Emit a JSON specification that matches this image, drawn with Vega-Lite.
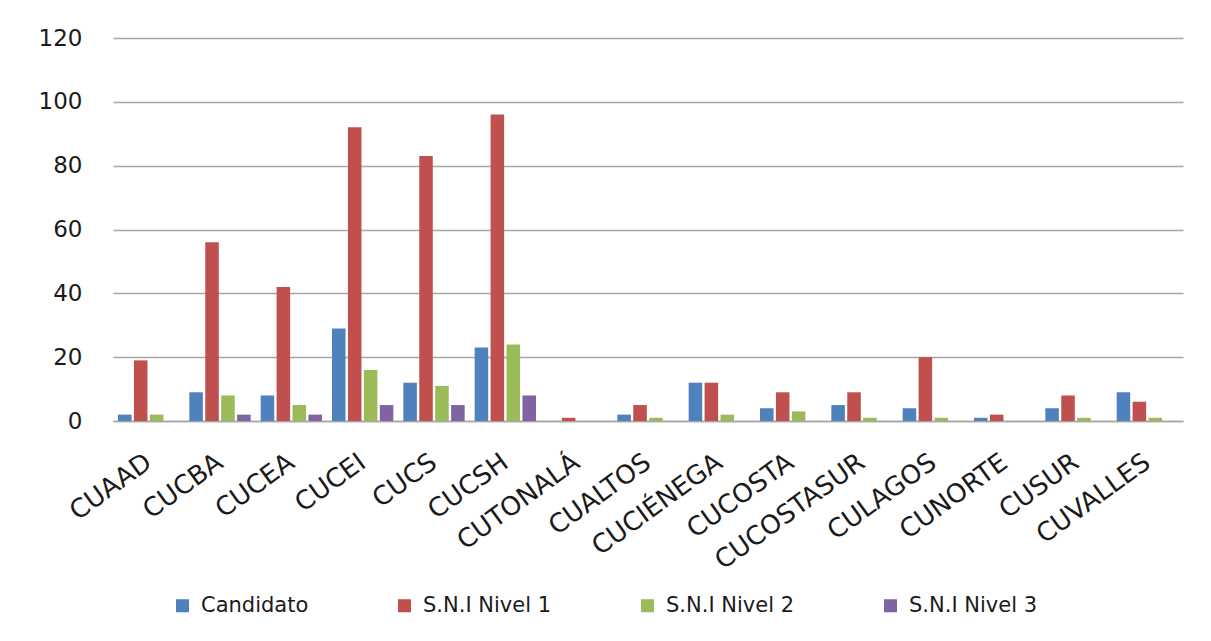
{
  "$schema": "https://vega.github.io/schema/vega-lite/v6.json",
  "width": 1070,
  "height": 383,
  "autosize": {"type": "none"},
  "padding": {"left": 113, "top": 38, "right": 28, "bottom": 220},
  "background": "white",
  "data": {
    "values": [
      {"centro": "CUAAD", "serie": "Candidato", "valor": 2},
      {"centro": "CUAAD", "serie": "S.N.I Nivel 1", "valor": 19},
      {"centro": "CUAAD", "serie": "S.N.I Nivel 2", "valor": 2},
      {"centro": "CUAAD", "serie": "S.N.I Nivel 3", "valor": 0},
      {"centro": "CUCBA", "serie": "Candidato", "valor": 9},
      {"centro": "CUCBA", "serie": "S.N.I Nivel 1", "valor": 56},
      {"centro": "CUCBA", "serie": "S.N.I Nivel 2", "valor": 8},
      {"centro": "CUCBA", "serie": "S.N.I Nivel 3", "valor": 2},
      {"centro": "CUCEA", "serie": "Candidato", "valor": 8},
      {"centro": "CUCEA", "serie": "S.N.I Nivel 1", "valor": 42},
      {"centro": "CUCEA", "serie": "S.N.I Nivel 2", "valor": 5},
      {"centro": "CUCEA", "serie": "S.N.I Nivel 3", "valor": 2},
      {"centro": "CUCEI", "serie": "Candidato", "valor": 29},
      {"centro": "CUCEI", "serie": "S.N.I Nivel 1", "valor": 92},
      {"centro": "CUCEI", "serie": "S.N.I Nivel 2", "valor": 16},
      {"centro": "CUCEI", "serie": "S.N.I Nivel 3", "valor": 5},
      {"centro": "CUCS", "serie": "Candidato", "valor": 12},
      {"centro": "CUCS", "serie": "S.N.I Nivel 1", "valor": 83},
      {"centro": "CUCS", "serie": "S.N.I Nivel 2", "valor": 11},
      {"centro": "CUCS", "serie": "S.N.I Nivel 3", "valor": 5},
      {"centro": "CUCSH", "serie": "Candidato", "valor": 23},
      {"centro": "CUCSH", "serie": "S.N.I Nivel 1", "valor": 96},
      {"centro": "CUCSH", "serie": "S.N.I Nivel 2", "valor": 24},
      {"centro": "CUCSH", "serie": "S.N.I Nivel 3", "valor": 8},
      {"centro": "CUTONALÁ", "serie": "Candidato", "valor": 0},
      {"centro": "CUTONALÁ", "serie": "S.N.I Nivel 1", "valor": 1},
      {"centro": "CUTONALÁ", "serie": "S.N.I Nivel 2", "valor": 0},
      {"centro": "CUTONALÁ", "serie": "S.N.I Nivel 3", "valor": 0},
      {"centro": "CUALTOS", "serie": "Candidato", "valor": 2},
      {"centro": "CUALTOS", "serie": "S.N.I Nivel 1", "valor": 5},
      {"centro": "CUALTOS", "serie": "S.N.I Nivel 2", "valor": 1},
      {"centro": "CUALTOS", "serie": "S.N.I Nivel 3", "valor": 0},
      {"centro": "CUCIÉNEGA", "serie": "Candidato", "valor": 12},
      {"centro": "CUCIÉNEGA", "serie": "S.N.I Nivel 1", "valor": 12},
      {"centro": "CUCIÉNEGA", "serie": "S.N.I Nivel 2", "valor": 2},
      {"centro": "CUCIÉNEGA", "serie": "S.N.I Nivel 3", "valor": 0},
      {"centro": "CUCOSTA", "serie": "Candidato", "valor": 4},
      {"centro": "CUCOSTA", "serie": "S.N.I Nivel 1", "valor": 9},
      {"centro": "CUCOSTA", "serie": "S.N.I Nivel 2", "valor": 3},
      {"centro": "CUCOSTA", "serie": "S.N.I Nivel 3", "valor": 0},
      {"centro": "CUCOSTASUR", "serie": "Candidato", "valor": 5},
      {"centro": "CUCOSTASUR", "serie": "S.N.I Nivel 1", "valor": 9},
      {"centro": "CUCOSTASUR", "serie": "S.N.I Nivel 2", "valor": 1},
      {"centro": "CUCOSTASUR", "serie": "S.N.I Nivel 3", "valor": 0},
      {"centro": "CULAGOS", "serie": "Candidato", "valor": 4},
      {"centro": "CULAGOS", "serie": "S.N.I Nivel 1", "valor": 20},
      {"centro": "CULAGOS", "serie": "S.N.I Nivel 2", "valor": 1},
      {"centro": "CULAGOS", "serie": "S.N.I Nivel 3", "valor": 0},
      {"centro": "CUNORTE", "serie": "Candidato", "valor": 1},
      {"centro": "CUNORTE", "serie": "S.N.I Nivel 1", "valor": 2},
      {"centro": "CUNORTE", "serie": "S.N.I Nivel 2", "valor": 0},
      {"centro": "CUNORTE", "serie": "S.N.I Nivel 3", "valor": 0},
      {"centro": "CUSUR", "serie": "Candidato", "valor": 4},
      {"centro": "CUSUR", "serie": "S.N.I Nivel 1", "valor": 8},
      {"centro": "CUSUR", "serie": "S.N.I Nivel 2", "valor": 1},
      {"centro": "CUSUR", "serie": "S.N.I Nivel 3", "valor": 0},
      {"centro": "CUVALLES", "serie": "Candidato", "valor": 9},
      {"centro": "CUVALLES", "serie": "S.N.I Nivel 1", "valor": 6},
      {"centro": "CUVALLES", "serie": "S.N.I Nivel 2", "valor": 1},
      {"centro": "CUVALLES", "serie": "S.N.I Nivel 3", "valor": 0}
    ]
  },
  "mark": {"type": "bar"},
  "encoding": {
    "x": {
      "field": "centro",
      "type": "nominal",
      "sort": null,
      "scale": {"paddingInner": 0.14, "paddingOuter": 0.07},
      "axis": {
        "title": null,
        "labelAngle": -36,
        "labelAlign": "right",
        "labelBaseline": "middle",
        "labelFont": "DejaVu Sans",
        "labelFontSize": 26,
        "labelColor": "#1a1a1a",
        "labelPadding": 38,
        "ticks": false,
        "domainColor": "#a6a6a6",
        "domainWidth": 1.5,
        "grid": false
      }
    },
    "xOffset": {
      "field": "serie",
      "type": "nominal",
      "scale": {"paddingInner": 0.15}
    },
    "y": {
      "field": "valor",
      "type": "quantitative",
      "scale": {"domain": [0, 120], "nice": false},
      "axis": {
        "title": null,
        "values": [0, 20, 40, 60, 80, 100, 120],
        "labelFont": "DejaVu Sans",
        "labelFontSize": 23,
        "labelColor": "#1a1a1a",
        "labelPadding": 31,
        "ticks": false,
        "domain": false,
        "gridColor": "#a6a6a6",
        "gridWidth": 1.3
      }
    },
    "color": {
      "field": "serie",
      "type": "nominal",
      "scale": {
        "domain": ["Candidato", "S.N.I Nivel 1", "S.N.I Nivel 2", "S.N.I Nivel 3"],
        "range": ["#4F81BD", "#C0504D", "#9BBB59", "#8064A2"]
      },
      "legend": {
        "title": null,
        "orient": "none",
        "direction": "horizontal",
        "legendX": 59,
        "legendY": 557,
        "symbolType": "square",
        "symbolSize": 170,
        "symbolStrokeWidth": 0,
        "labelFont": "DejaVu Sans",
        "labelFontSize": 21,
        "labelColor": "#1a1a1a",
        "labelOffset": 8,
        "columnPadding": 85
      }
    }
  },
  "config": {"view": {"stroke": null}}
}
